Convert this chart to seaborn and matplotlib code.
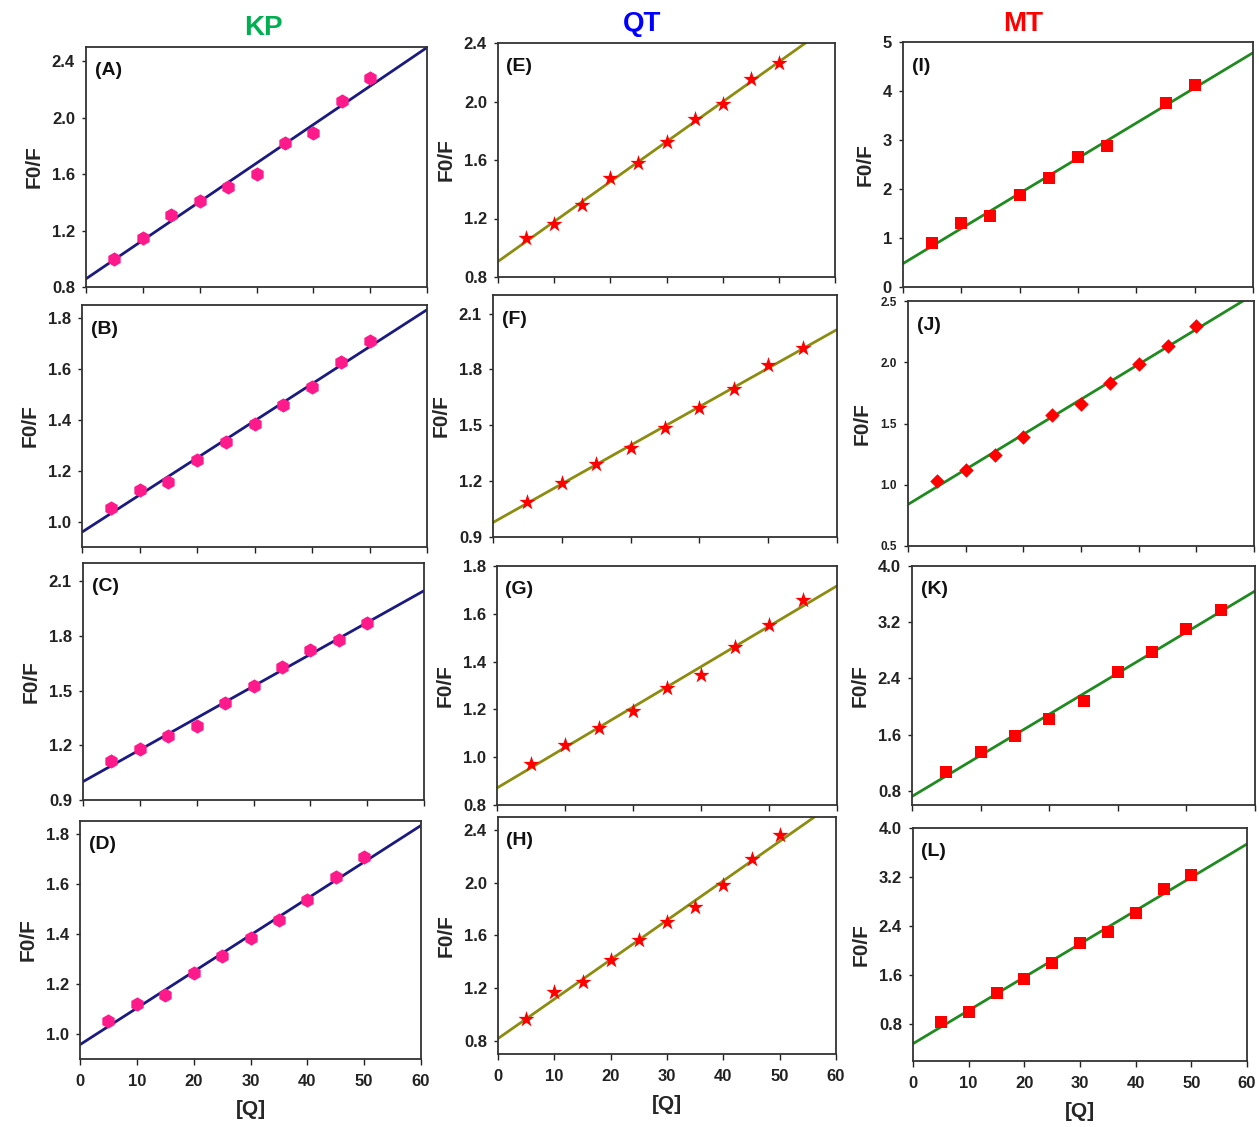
import matplotlib
matplotlib.use("Agg")
import matplotlib.pyplot as plt
import seaborn as sns
import pandas as pd
from matplotlib.ticker import FormatStrFormatter, MultipleLocator

sns.set_theme(style="white")
plt.rcParams['font.family'] = ['Liberation Sans', 'DejaVu Sans']
plt.rcParams['font.weight'] = 'bold'

# quencher concentration [Q]
q_10 = [5, 10, 15, 20, 25, 30, 35, 40, 45, 50]
q_6 = [6, 12, 18, 24, 30, 36, 42, 48, 54]
q_i = [5, 10, 15, 20, 25, 30, 35, 45, 50]

# KP column
kp_a = [1.00, 1.15, 1.31, 1.41, 1.51, 1.60, 1.82, 1.89, 2.12, 2.28]
kp_b = [1.052, 1.122, 1.157, 1.242, 1.311, 1.383, 1.456, 1.53, 1.625, 1.708]
kp_c = [1.115, 1.181, 1.252, 1.305, 1.43, 1.527, 1.627, 1.722, 1.777, 1.872]
kp_d = [1.052, 1.121, 1.155, 1.242, 1.31, 1.383, 1.454, 1.533, 1.626, 1.707]

# QT column
qt_e = [1.066, 1.16, 1.29, 1.475, 1.58, 1.72, 1.88, 1.98, 2.155, 2.26]
qt_f = [1.09, 1.19, 1.293, 1.38, 1.485, 1.593, 1.696, 1.826, 1.913]
qt_g = [0.972, 1.052, 1.122, 1.194, 1.29, 1.345, 1.461, 1.555, 1.656]
qt_h = [0.965, 1.168, 1.25, 1.413, 1.565, 1.70, 1.82, 1.985, 2.18, 2.365]

# MT column
mt_i = [0.905, 1.306, 1.44, 1.87, 2.22, 2.65, 2.88, 3.755, 4.13]
mt_j = [1.031, 1.124, 1.24, 1.39, 1.568, 1.663, 1.827, 1.985, 2.132, 2.298]
mt_k = [1.07, 1.35, 1.575, 1.83, 2.08, 2.49, 2.77, 3.11, 3.37]
mt_l = [0.83, 1.0, 1.31, 1.53, 1.80, 2.13, 2.31, 2.61, 3.0, 3.23]

# panel: label, x, y, box(px l, t, r, b), ylim, yticks, fmt, xtick step, style
panels = [
    ("(A)", q_10, kp_a, (86, 47, 427, 287), (0.8, 2.5), [0.8, 1.2, 1.6, 2.0, 2.4], "%.1f", 10, "kp"),
    ("(B)", q_10, kp_b, (82, 305, 427, 547), (0.9, 1.85), [1.0, 1.2, 1.4, 1.6, 1.8], "%.1f", 10, "kp"),
    ("(C)", q_10, kp_c, (83, 563, 424, 800), (0.9, 2.2), [0.9, 1.2, 1.5, 1.8, 2.1], "%.1f", 10, "kp"),
    ("(D)", q_10, kp_d, (80, 821, 421, 1059), (0.9, 1.85), [1.0, 1.2, 1.4, 1.6, 1.8], "%.1f", 10, "kp"),
    ("(E)", q_10, qt_e, (498, 43, 835, 277), (0.8, 2.4), [0.8, 1.2, 1.6, 2.0, 2.4], "%.1f", 10, "qt"),
    ("(F)", q_6, qt_f, (493, 295, 837, 537), (0.9, 2.2), [0.9, 1.2, 1.5, 1.8, 2.1], "%.1f", 12, "qt"),
    ("(G)", q_6, qt_g, (497, 566, 837, 805), (0.8, 1.8), [0.8, 1.0, 1.2, 1.4, 1.6, 1.8], "%.1f", 12, "qt"),
    ("(H)", q_10, qt_h, (498, 817, 836, 1054), (0.7, 2.5), [0.8, 1.2, 1.6, 2.0, 2.4], "%.1f", 10, "qt"),
    ("(I)", q_i, mt_i, (903, 42, 1253, 287), (0, 5), [0, 1, 2, 3, 4, 5], "%d", 10, "mt"),
    ("(J)", q_10, mt_j, (908, 301, 1254, 546), (0.5, 2.5), [0.5, 1.0, 1.5, 2.0, 2.5], "%.1f", 10, "mtj"),
    ("(K)", q_6, mt_k, (912, 566, 1255, 805), (0.6, 4.0), [0.8, 1.6, 2.4, 3.2, 4.0], "%.1f", 12, "mt"),
    ("(L)", q_10, mt_l, (913, 828, 1247, 1061), (0.2, 4.0), [0.8, 1.6, 2.4, 3.2, 4.0], "%.1f", 10, "mt"),
]

styles = {
    "kp": dict(marker="h", mcolor="#ff1a8c", s=105, lcolor="#1a1a80"),
    "qt": dict(marker="*", mcolor="#ff0000", s=150, lcolor="#8c8c10"),
    "mt": dict(marker="s", mcolor="#ff0000", s=75, lcolor="#1f8a1f"),
    "mtj": dict(marker="D", mcolor="#ff0000", s=55, lcolor="#1f8a1f"),
}

W, H = 1259, 1127
fig = plt.figure(figsize=(W / 100, H / 100), dpi=100)

for label, xs, ys, box, ylim, yticks, fmt, xstep, key in panels:
    l, t, r, b = box
    ax = fig.add_axes([l / W, 1 - b / H, (r - l) / W, (b - t) / H])
    st = styles[key]
    ax.set_xlim(0, 60)
    ax.set_ylim(*ylim)
    df = pd.DataFrame({"Q": xs, "F0F": ys})
    sns.regplot(data=df, x="Q", y="F0F", ax=ax, ci=None, truncate=False,
                marker=st["marker"], color=st["mcolor"],
                scatter_kws=dict(s=st["s"], zorder=3, linewidths=0, alpha=1),
                line_kws=dict(color=st["lcolor"], lw=2, zorder=2))
    ax.set_xlim(0, 60)
    ax.set_ylim(*ylim)
    ax.set_yticks(yticks)
    ax.yaxis.set_major_formatter(FormatStrFormatter(fmt))
    ax.xaxis.set_major_locator(MultipleLocator(xstep))
    ysize = 8.5 if key == "mtj" else 12
    ax.tick_params(axis="y", direction="out", length=3, width=1, pad=5,
                   labelsize=ysize, left=True, colors="#222222")
    ax.tick_params(axis="x", direction="out", length=4, width=1, pad=7,
                   labelsize=12, bottom=True, colors="#222222")
    for lab in ax.get_yticklabels() + ax.get_xticklabels():
        lab.set_fontweight("bold")
    for sp in ax.spines.values():
        sp.set_color("#333333")
        sp.set_linewidth(1.3)
        sp.set_visible(True)
    ax.set_ylabel("F0/F", fontsize=15, fontweight="bold", labelpad=6)
    if label in ("(D)", "(H)", "(L)"):
        ax.set_xlabel("[Q]", fontsize=15, fontweight="bold", labelpad=8)
    else:
        ax.set_xlabel("")
        ax.set_xticklabels([])
    ax.text(0.025, 0.9, label, transform=ax.transAxes, fontsize=14,
            fontweight="bold", ha="left", va="center", color="#111111")

fig.text(263 / W, 1 - 28 / H, "KP", color="#00b050", fontsize=20, fontweight="bold", ha="center", va="center")
fig.text(642 / W, 1 - 24 / H, "QT", color="#0000ff", fontsize=20, fontweight="bold", ha="center", va="center")
fig.text(1023 / W, 1 - 24 / H, "MT", color="#ff0000", fontsize=20, fontweight="bold", ha="center", va="center")

fig.savefig("out.png", dpi=100, facecolor="white")
